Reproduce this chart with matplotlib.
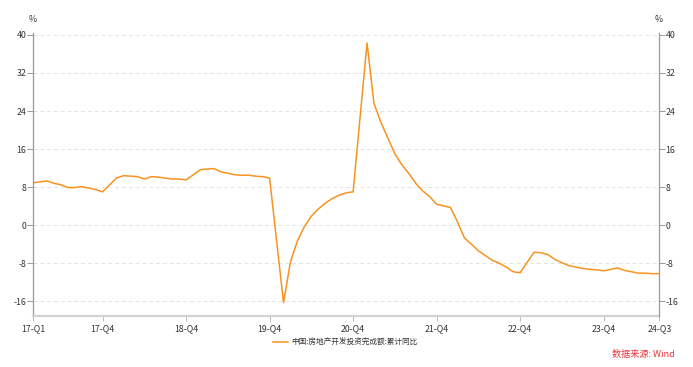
import matplotlib
matplotlib.use("Agg")
import matplotlib.pyplot as plt
import numpy as np

plt.rcParams['font.family'] = ['Noto Sans CJK SC', 'DejaVu Sans']

# Monthly cumulative YoY (Jan-Feb combined), Feb 2017 .. Aug 2024
years = [2017, 2018, 2019, 2020, 2021, 2022, 2023, 2024]
values_by_year = {
    2017: [8.9, 9.1, 9.3, 8.8, 8.5, 7.9, 7.9, 8.1, 7.8, 7.5, 7.0],
    2018: [9.9, 10.4, 10.3, 10.2, 9.7, 10.2, 10.1, 9.9, 9.7, 9.7, 9.5],
    2019: [11.6, 11.8, 11.9, 11.2, 10.9, 10.6, 10.5, 10.5, 10.3, 10.2, 9.9],
    2020: [-16.3, -7.7, -3.3, -0.3, 1.9, 3.4, 4.6, 5.6, 6.3, 6.8, 7.0],
    2021: [38.3, 25.6, 21.6, 18.3, 15.0, 12.7, 10.9, 8.8, 7.2, 6.0, 4.4],
    2022: [3.7, 0.7, -2.7, -4.0, -5.4, -6.4, -7.4, -8.0, -8.8, -9.8, -10.0],
    2023: [-5.7, -5.8, -6.2, -7.2, -7.9, -8.5, -8.8, -9.1, -9.3, -9.4, -9.6],
    2024: [-9.0, -9.5, -9.8, -10.1, -10.1, -10.2, -10.2],
}
months_in_year = [2, 3, 4, 5, 6, 7, 8, 9, 10, 11, 12]

tick_labels = ['17-Q1', '17-Q4', '18-Q4', '19-Q4', '20-Q4', '21-Q4', '22-Q4', '23-Q4', '24-Q3']
tick_months = [(2017, 2), (2017, 12), (2018, 12), (2019, 12), (2020, 12),
               (2021, 12), (2022, 12), (2023, 12), (2024, 8)]
series_name = '中国:房地产开发投资完成额:累计同比'
source_text = '数据来源: Wind'

def midx(y, m):
    return (y - 2017) * 12 + (m - 2)

xs, ys = [], []
for y in years:
    for m, v in zip(months_in_year, values_by_year[y]):
        xs.append(midx(y, m))
        ys.append(v)

fig = plt.figure(figsize=(6.93, 3.67), dpi=100)
ax = fig.add_axes([33/693, 1-316/367, (659.3-33)/693, (316-33)/367])
ax.plot(xs, ys, color='#F7931E', lw=1.1, label=series_name)

yt = [-16, -8, 0, 8, 16, 24, 32, 40]
ax.set_ylim(-19.1, 40.4)
ax.set_xlim(0, midx(2024, 8))
ax.set_yticks(yt)
ax.set_yticklabels([str(v) for v in yt])
ax.set_xticks([midx(y, m) for y, m in tick_months])
ax.set_xticklabels(tick_labels)
ax.grid(axis='y', color='#e3e3e3', linestyle=(0, (4, 3)), lw=0.7)
ax.set_axisbelow(True)

for s in ['top', 'right']:
    ax.spines[s].set_visible(False)
ax.spines['left'].set_color('#999999')
ax.spines['left'].set_linewidth(0.9)
ax.spines['bottom'].set_color('#d3d3d3')
ax.spines['bottom'].set_linewidth(1.6)
ax.tick_params(axis='y', length=4.3, width=0.7, color='#999999', labelsize=6.3, labelcolor='#333333', pad=0.5)
ax.tick_params(axis='x', length=3.5, width=0.7, color='#bbbbbb', labelsize=6.3, labelcolor='#333333', pad=2.5)

ax2 = ax.twinx()
ax2.set_ylim(ax.get_ylim())
ax2.set_yticks(yt)
ax2.set_yticklabels([str(v) for v in yt])
for s in ['top', 'left', 'bottom']:
    ax2.spines[s].set_visible(False)
ax2.spines['right'].set_color('#999999')
ax2.spines['right'].set_linewidth(0.9)
ax2.tick_params(axis='y', length=4, width=0.7, color='#999999', labelsize=6.3, labelcolor='#333333', pad=0.5)

fig.text(33/693, 1-20/367, '%', ha='center', va='center', fontsize=6.3, color='#333333')
fig.text(659/693, 1-20/367, '%', ha='center', va='center', fontsize=6.3, color='#333333')

leg = fig.legend(loc='center', bbox_to_anchor=(0.498, 1-343/367), frameon=False,
                 fontsize=5.5, handlelength=2.0, handletextpad=0.4)
for t in leg.get_texts():
    t.set_color('#333333')

fig.text(675/693, 1-355/367, source_text, ha='right', va='center', fontsize=6.6, color='#E8353B')

fig.savefig('out.png', dpi=100)
